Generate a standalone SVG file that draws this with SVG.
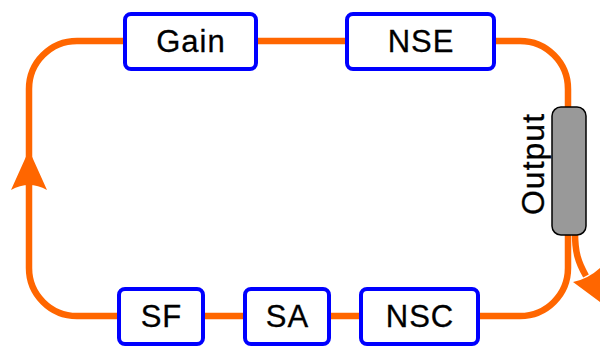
<svg xmlns="http://www.w3.org/2000/svg" width="601" height="348" viewBox="0 0 601 348">
<style>
.w{fill:none;stroke:#ff6600;stroke-width:6.5}
.ah{fill:#ff6600;stroke:none}
.box{fill:#fff;stroke:#0000ff;stroke-width:4}
.t{font-family:"Liberation Sans",Arial,sans-serif;font-size:31px;fill:#000;text-anchor:middle;letter-spacing:1px;stroke:#000;stroke-width:0.3}
</style>
<rect width="601" height="348" fill="#fff"/>
<g id="connectors">
<path class="w" d="M125,41 L77,41 A48,48 0 0 0 29,89 L29,268 A48,48 0 0 0 77,316 L119,316"/>
<path class="w" d="M203,316 L245,316"/>
<path class="w" d="M329,316 L361,316"/>
<path class="w" d="M258,41 L347,41"/>
<path class="w" d="M494,41 L520,41 A48,48 0 0 1 568,89 L568,108"/>
<path class="w" d="M568,233 L568,268 A48,48 0 0 1 520,316 L478,316"/>
<path class="w" d="M575,233 C575,252 578,262 586,276"/>
<path class="ah" d="M29,150 L47,190 Q29,180 11,190 Z"/>
<path class="ah" d="M600,302 L573,282 Q588,279 600,268 Z"/>
</g>
<g id="gain"><rect class="box" x="125" y="14" width="131" height="55" rx="6"/><text class="t" x="191" y="52">Gain</text></g>
<g id="nse"><rect class="box" x="347" y="14" width="147" height="55" rx="6"/><text class="t" x="421" y="52">NSE</text></g>
<g id="output"><rect x="552" y="107" width="34" height="128" rx="9" fill="#999" stroke="#000" stroke-width="1.5"/><text class="t" style="font-size:32px" transform="translate(544,164) rotate(-90)">Output</text></g>
<g id="sf"><rect class="box" x="119" y="289" width="84" height="55" rx="6"/><text class="t" x="161.5" y="327">SF</text></g>
<g id="sa"><rect class="box" x="245" y="289" width="84" height="55" rx="6"/><text class="t" x="287.5" y="327">SA</text></g>
<g id="nsc"><rect class="box" x="361" y="289" width="117" height="55" rx="6"/><text class="t" x="420" y="327">NSC</text></g>
</svg>
